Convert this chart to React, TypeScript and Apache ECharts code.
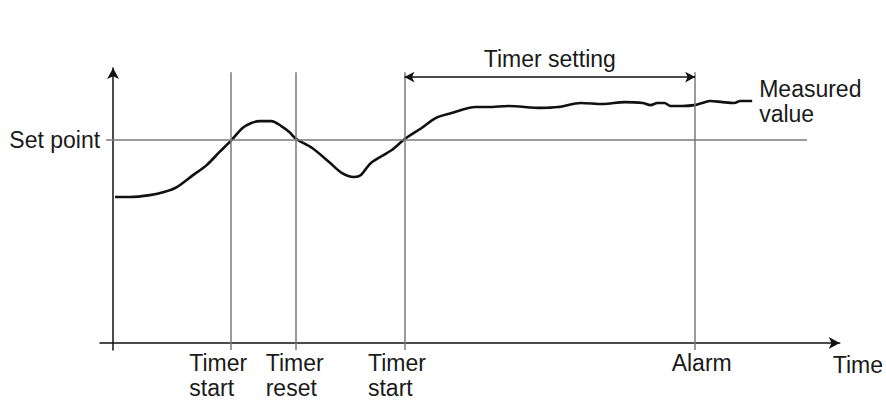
import React, { useEffect, useRef } from "react";
import * as echarts from "echarts";

// Measured value curve (time units, value units)
const curveTime = [0.27, 2.33, 5.07, 7.12, 8.77, 10.82, 12.88, 14.66, 16.3, 17.81, 19.04, 20.14, 21.78, 23.15, 24.25, 25.21, 27.4, 29.73, 31.51, 33.15, 34.11, 35.48, 38.36, 40.14, 42.47, 44.38, 46.58, 49.86, 51.64, 54.38, 58.9, 61.23, 64.38, 67.4, 70.41, 72.88, 73.97, 74.93, 75.89, 76.71, 78.36, 80.0, 81.1, 82.19, 83.84, 85.48, 86.3, 87.95];
const curveValue = [53.1, 53.1, 53.8, 55.0, 56.7, 60.7, 64.7, 69.5, 73.8, 78.2, 80.0, 80.7, 80.7, 78.9, 76.7, 74.2, 70.9, 65.8, 61.8, 60.4, 61.1, 65.5, 70.2, 74.2, 78.2, 81.8, 83.6, 85.8, 85.8, 86.2, 85.5, 85.8, 87.3, 86.9, 87.6, 87.3, 86.5, 87.3, 87.3, 86.2, 86.2, 86.5, 87.3, 88.0, 87.6, 87.3, 88.0, 88.0];

const setPoint = 74;
const setPointLabel = "Set point";
const setPointRange = [-0.96, 95.5];

const eventNames = ["Timer\nstart", "Timer\nreset", "Timer\nstart", "Alarm"];
const eventTimes = [16.2, 25.2, 40.1, 80.1];
const eventLineTop = 98.5;

const timerSettingLabel = "Timer setting";
const timerSettingRange = [40.1, 80.1];
const timerSettingLevel = 96.7;

const curveName = "Measured\nvalue";
const xAxisName = "Time";

const X_MIN = -1.8;
const X_MAX = 100;
const Y_MIN = -2.5;
const Y_MAX = 100;

// label horizontal shifts (layout only)
const eventLabelShift = [-41, -30, -36, -23];

const FONT = '"Liberation Sans", Arial, Helvetica, sans-serif';
const TXT = "#1a1a1a";
const GRIDC = "#7a7a7a";

export default function App() {
  const ref = useRef<HTMLDivElement>(null);
  useEffect(() => {
    if (!ref.current) return;
    const chart = echarts.init(ref.current, undefined, { renderer: "svg" });
    const curve = curveTime.map((t, i) => [t, curveValue[i]]);
    const eventLines = eventTimes.map((t) => [
      { coord: [t, Y_MIN] },
      { coord: [t, eventLineTop] },
    ]);
    chart.setOption({
      animation: false,
      grid: { left: 100, right: 43, top: 68, bottom: 51, containLabel: false },
      xAxis: {
        type: "value",
        min: X_MIN,
        max: X_MAX,
        name: xAxisName,
        nameLocation: "end",
        nameGap: -7,
        nameTextStyle: {
          fontFamily: FONT,
          fontSize: 23,
          color: TXT,
          align: "left",
          verticalAlign: "top",
          padding: [10, 0, 0, 0],
        },
        axisLine: {
          onZero: true,
          symbol: ["none", "arrow"],
          symbolSize: [9, 11],
          lineStyle: { color: "#111", width: 1.5 },
        },
        axisTick: { show: false },
        axisLabel: { show: false },
        splitLine: { show: false },
      },
      yAxis: {
        type: "value",
        min: Y_MIN,
        max: Y_MAX,
        axisLine: {
          show: true,
          onZero: true,
          symbol: ["none", "arrow"],
          symbolSize: [9, 11],
          lineStyle: { color: "#111", width: 1.5 },
        },
        axisTick: { show: false },
        axisLabel: { show: false },
        splitLine: { show: false },
      },
      series: [
        {
          type: "line",
          name: "guides",
          data: [],
          silent: true,
          markLine: {
            silent: true,
            symbol: ["none", "none"],
            animation: false,
            lineStyle: { color: GRIDC, width: 1.5, type: "solid" },
            label: { show: false },
            data: [
              ...eventLines,
              [
                {
                  coord: [setPointRange[0], setPoint],
                  label: {
                    show: true,
                    position: "start",
                    formatter: setPointLabel,
                    fontFamily: FONT,
                    fontSize: 23,
                    color: TXT,
                    distance: 6,
                  },
                },
                { coord: [setPointRange[1], setPoint] },
              ],
              [
                {
                  coord: [timerSettingRange[0], timerSettingLevel],
                  symbol: "arrow",
                  symbolSize: [8, 10],
                  lineStyle: { color: "#111", width: 1.5 },
                  label: {
                    show: true,
                    position: "middle",
                    formatter: timerSettingLabel,
                    fontFamily: FONT,
                    fontSize: 23,
                    color: TXT,
                    distance: 7,
                  },
                },
                {
                  coord: [timerSettingRange[1], timerSettingLevel],
                  symbol: "arrow",
                  symbolSize: [8, 10],
                },
              ],
            ],
          },
        },
        {
          type: "line",
          name: "Measured value",
          data: curve,
          smooth: 0.3,
          showSymbol: false,
          symbol: "none",
          lineStyle: { color: "#111", width: 2.6 },
          endLabel: {
            show: true,
            formatter: () => curveName,
            fontFamily: FONT,
            fontSize: 23,
            lineHeight: 25,
            color: TXT,
            distance: 7,
            align: "left",
          },
        },
        {
          type: "scatter",
          name: "events",
          symbolSize: 1,
          itemStyle: { color: "transparent", opacity: 1 },
          silent: true,
          label: {
            show: true,
            color: TXT,
            fontFamily: FONT,
            fontSize: 23,
            lineHeight: 25,
          },
          data: eventTimes.map((t, i) => ({
            value: [t, Y_MIN],
            name: eventNames[i],
            label: {
              show: true,
              position: [eventLabelShift[i], 1],
              align: "left",
              verticalAlign: "top",
              formatter: eventNames[i],
              fontFamily: FONT,
              fontSize: 23,
              lineHeight: 25,
              color: TXT,
            },
          })),
        },
      ],
    });
    return () => chart.dispose();
  }, []);
  return (
    <div
      ref={ref}
      style={{ position: "fixed", left: 0, top: 0, width: 886, height: 401, background: "#fff" }}
    />
  );
}
